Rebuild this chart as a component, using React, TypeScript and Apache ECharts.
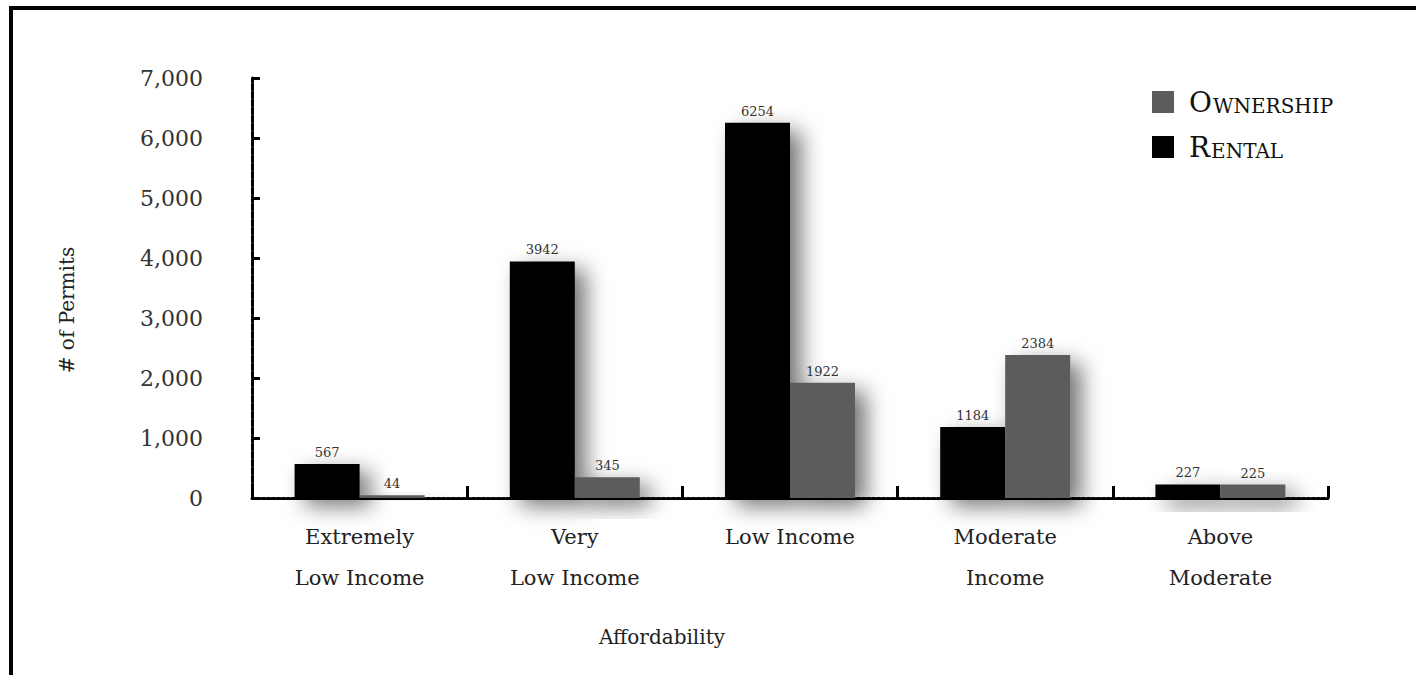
import React, { useEffect, useRef } from "react";
import * as echarts from "echarts";

// Permits by affordability level
const categories = [
  "Extremely\nLow Income",
  "Very\nLow Income",
  "Low Income",
  "Moderate\nIncome",
  "Above\nModerate",
];
const rental = [567, 3942, 6254, 1184, 227];
const ownership = [44, 345, 1922, 2384, 225];
const yTicks = [0, 1000, 2000, 3000, 4000, 5000, 6000, 7000];

const SERIF = "'DejaVu Serif', 'Liberation Serif', serif";

const barShadow = {
  shadowBlur: 22,
  shadowOffsetX: 11,
  shadowOffsetY: 8,
  shadowColor: "rgba(0,0,0,0.55)",
};

export default function App() {
  const ref = useRef<HTMLDivElement>(null);

  useEffect(() => {
    if (!ref.current) return;
    const chart = echarts.init(ref.current, null, { renderer: "svg" });
    const valueLabel = {
      show: true,
      position: "top" as const,
      distance: 5,
      fontFamily: SERIF,
      fontSize: 13,
      color: "#333",
    };
    chart.setOption({
      animation: false,
      backgroundColor: "#fff",
      grid: { left: 252, right: 88, top: 78, bottom: 177 },
      legend: {
        data: ["Ownership", "Rental"],
        orient: "vertical",
        left: 1147,
        top: 83,
        icon: "rect",
        itemWidth: 22,
        itemHeight: 22,
        itemGap: 17,
        selectedMode: false,
        formatter: (name: string) =>
          name === "Ownership" ? "{c|O}{s|WNERSHIP}" : "{c|R}{s|ENTAL}",
        textStyle: {
          rich: {
            c: {
              fontFamily: SERIF,
              fontSize: 28,
              lineHeight: 28,
              color: "#111",
              padding: [0, 1, 0, 10],
              verticalAlign: "bottom",
            },
            s: {
              fontFamily: SERIF,
              fontSize: 20,
              lineHeight: 21,
              color: "#111",
              verticalAlign: "bottom",
            },
          },
        },
      },
      xAxis: {
        type: "category",
        data: categories,
        axisLine: {
          show: true,
          lineStyle: { color: "#000", width: 3, type: [3, 2] },
        },
        axisTick: {
          show: true,
          inside: true,
          length: 12,
          lineStyle: { color: "#000", width: 3 },
        },
        axisLabel: {
          fontFamily: SERIF,
          fontSize: 21,
          lineHeight: 41,
          color: "#222",
          margin: 18,
        },
        splitLine: { show: false },
      },
      yAxis: {
        type: "value",
        min: yTicks[0],
        max: yTicks[yTicks.length - 1],
        interval: 1000,
        axisLine: {
          show: true,
          lineStyle: { color: "#000", width: 3, type: [6, 2] },
        },
        axisTick: {
          show: true,
          inside: true,
          length: 8,
          lineStyle: { color: "#000", width: 3 },
        },
        axisLabel: {
          fontFamily: SERIF,
          fontSize: 22,
          color: "#333",
          margin: 49,
          formatter: (v: number) => v.toLocaleString("en-US"),
        },
        splitLine: { show: false },
      },
      series: [
        {
          name: "Rental",
          type: "bar",
          data: rental,
          barWidth: 65,
          barGap: "0%",
          itemStyle: { color: "#000", ...barShadow },
          label: valueLabel,
        },
        {
          name: "Ownership",
          type: "bar",
          data: ownership,
          barWidth: 65,
          barGap: "0%",
          itemStyle: { color: "#5c5c5c", ...barShadow },
          label: valueLabel,
        },
      ],
      graphic: [
        {
          type: "rect",
          shape: { x: 11, y: 8, width: 1430, height: 700 },
          style: { fill: "none", stroke: "#000", lineWidth: 4 },
          silent: true,
        },
        {
          type: "text",
          x: 67,
          y: 310,
          rotation: Math.PI / 2,
          style: {
            text: "# of Permits",
            fontFamily: SERIF,
            fontSize: 20,
            fill: "#222",
            align: "center",
            verticalAlign: "middle",
          },
        },
        {
          type: "text",
          x: 662,
          y: 637,
          style: {
            text: "Affordability",
            fontFamily: SERIF,
            fontSize: 20,
            fill: "#222",
            align: "center",
            verticalAlign: "middle",
          },
        },
      ],
    });
    return () => chart.dispose();
  }, []);

  return (
    <div
      ref={ref}
      style={{ position: "fixed", left: 0, top: 0, width: 1416, height: 675 }}
    />
  );
}
